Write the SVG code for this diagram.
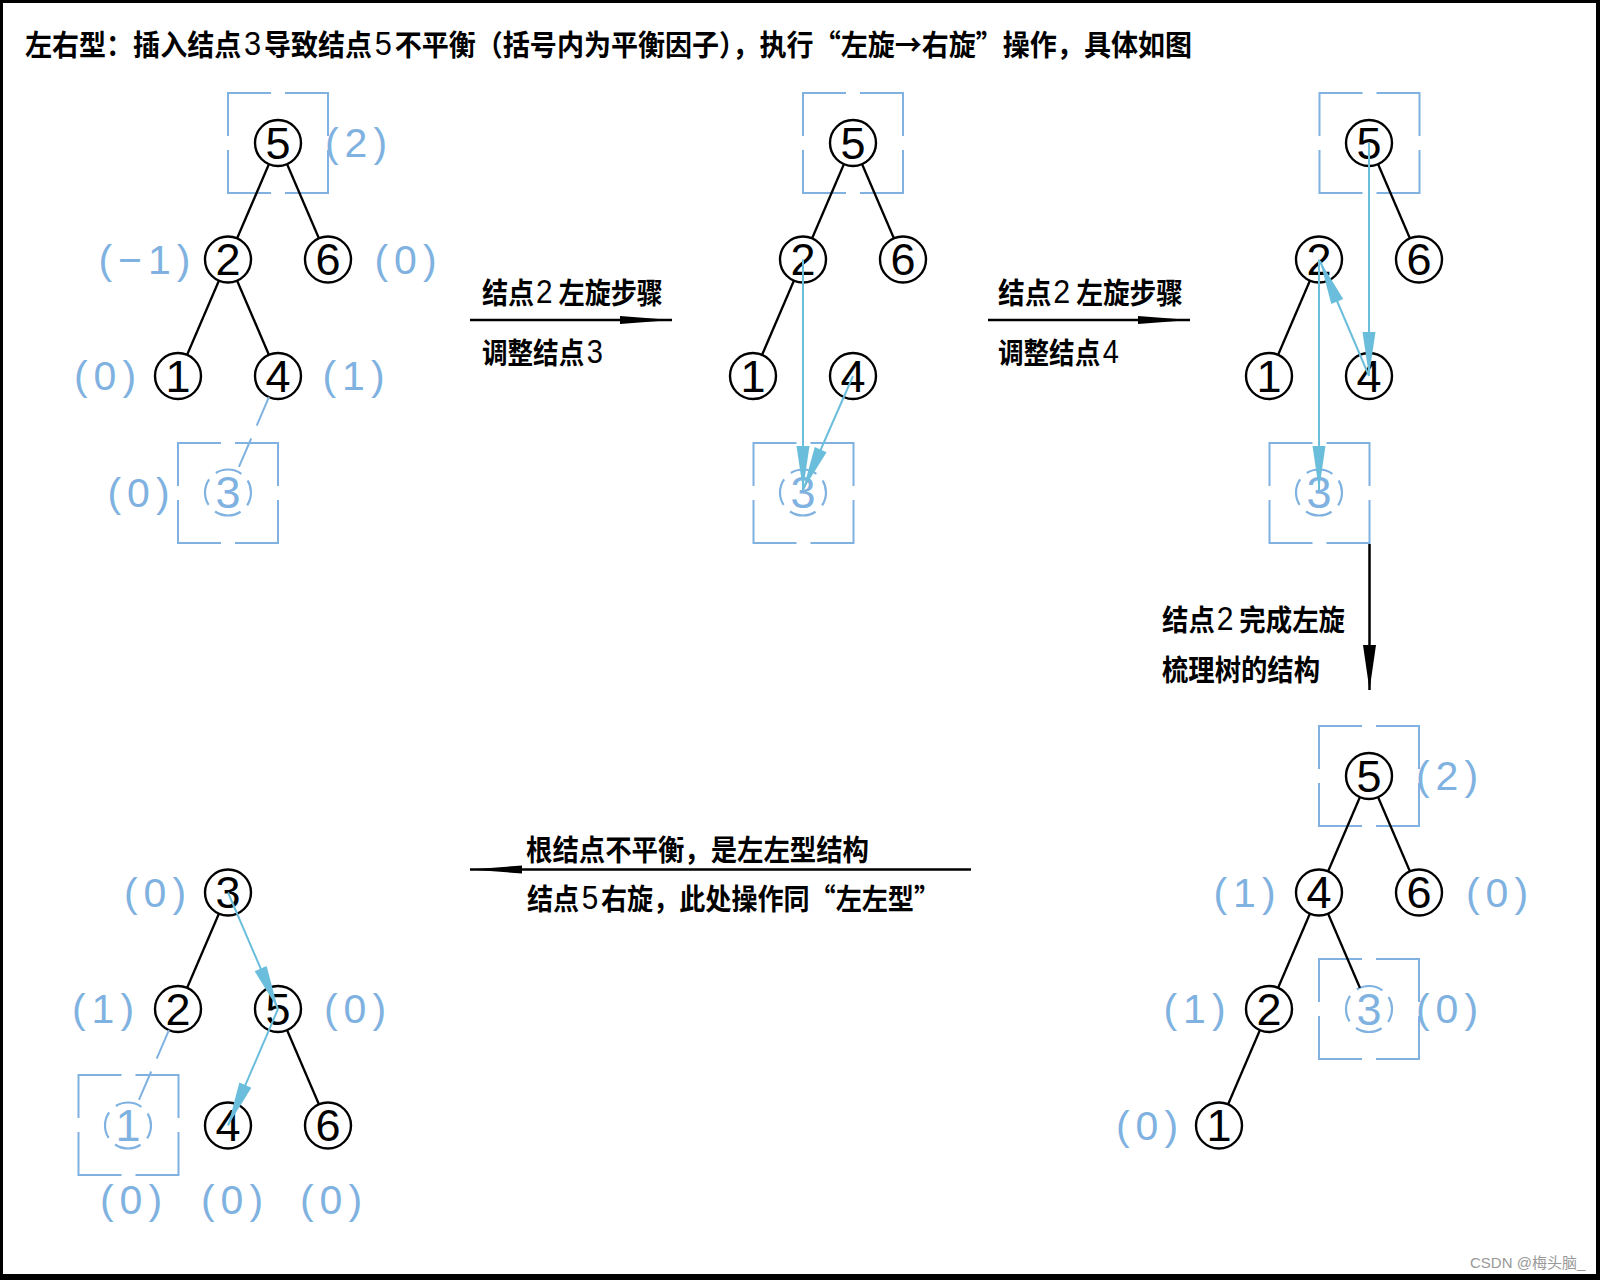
<svg xmlns="http://www.w3.org/2000/svg" xmlns:xlink="http://www.w3.org/1999/xlink" width="1600" height="1280" viewBox="0 0 1600 1280">
<style>
.n circle{fill:#fff;stroke:#000;stroke-width:2.4}
.n .d{font-family:'Liberation Sans',Arial,sans-serif;font-size:45px;text-anchor:middle;dominant-baseline:central;fill:#000}
.nb circle{fill:#fff;stroke:#7FB2E0;stroke-width:2.2;stroke-dasharray:27 9.13;stroke-dashoffset:13.5}
.nb .d{fill:#7FB2E0}
.n .bf{font-family:'Liberation Sans',Arial,sans-serif;font-size:41px;fill:#7FB2E0;text-anchor:middle;dominant-baseline:central;letter-spacing:6px}
.box{fill:none;stroke:#7FB2E0;stroke-width:2}
.e{fill:none;stroke:#000;stroke-width:2.4}
.ed{fill:none;stroke:#7FB2E0;stroke-width:2;stroke-dasharray:31 14}
.ar{fill:none;stroke:#6BBEDB;stroke-width:2;marker-end:url(#mcy)}
.ak{fill:none;stroke:#000;stroke-width:2.5}
.cj{font-family:'Noto Sans CJK SC','Noto Sans CJK TC',sans-serif;font-weight:700;font-size:29px;fill:#000;dominant-baseline:central}
.dg{font-family:'Liberation Sans',Arial,sans-serif;font-weight:400;font-size:33px}
</style>
<defs>
<path id="bx" class="box" d="M-7,-50 H-50 V-7 M7,-50 H50 V-7 M50,7 V50 H7 M-7,50 H-50 V7"/>
<marker id="mcy" markerUnits="userSpaceOnUse" markerWidth="44" markerHeight="13" refX="44" refY="6.5" orient="auto" overflow="visible"><path d="M0,0 L44,6.5 L0,13 Z" fill="#6BBEDB"/></marker>
<marker id="mbk" markerUnits="userSpaceOnUse" markerWidth="45" markerHeight="13" refX="45" refY="6.5" orient="auto" overflow="visible"><path d="M0,0 L45,6.5 L0,13 Z" fill="#000"/></marker>
<marker id="mbh" markerUnits="userSpaceOnUse" markerWidth="52" markerHeight="8" refX="52" refY="4" orient="auto" overflow="visible"><path d="M0,0 L52,4 L0,8 Z" fill="#000"/></marker>
</defs>
<rect x="0" y="0" width="1600" height="1280" fill="#000"/>
<rect x="3" y="3" width="1593" height="1271" fill="#fff"/>

<text id="title" class="cj" x="25" y="43" font-size="31" textLength="1167" lengthAdjust="spacingAndGlyphs">左右型：插入结点<tspan class="dg" dx="3">3</tspan><tspan dx="3">导致结点</tspan><tspan class="dg" dx="3">5</tspan><tspan dx="3">不平衡（括号内为平衡因子），执行“左旋→右旋”操作，具体如图</tspan></text>

<!-- Tree 1 -->
<g id="t1-n5" class="n"><use xlink:href="#bx" x="278" y="143"/><circle cx="278" cy="143" r="23"/><text class="d" x="278" y="143">5</text><text class="bf" x="359" y="143">(2)</text></g>
<g id="t1-n2" class="n"><circle cx="228" cy="259.5" r="23"/><text class="d" x="228" y="259.5">2</text><text class="bf" x="147.5" y="259.5">(−1)</text></g>
<g id="t1-n6" class="n"><circle cx="328" cy="259.5" r="23"/><text class="d" x="328" y="259.5">6</text><text class="bf" x="408.5" y="259.5">(0)</text></g>
<g id="t1-n1" class="n"><circle cx="178" cy="376" r="23"/><text class="d" x="178" y="376">1</text><text class="bf" x="108" y="376">(0)</text></g>
<g id="t1-n4" class="n"><circle cx="278" cy="376" r="23"/><text class="d" x="278" y="376">4</text><text class="bf" x="356.5" y="376">(1)</text></g>
<g id="t1-n3" class="n nb"><use xlink:href="#bx" x="228" y="493"/><circle cx="228" cy="492.5" r="23"/><text class="d" x="228" y="492.5">3</text><text class="bf" x="141.5" y="492.5">(0)</text></g>

<!-- Tree 2 -->
<g id="t2-n5" class="n"><use xlink:href="#bx" x="853" y="143"/><circle cx="853" cy="143" r="23"/><text class="d" x="853" y="143">5</text></g>
<g id="t2-n2" class="n"><circle cx="803" cy="259.5" r="23"/><text class="d" x="803" y="259.5">2</text></g>
<g id="t2-n6" class="n"><circle cx="903" cy="259.5" r="23"/><text class="d" x="903" y="259.5">6</text></g>
<g id="t2-n1" class="n"><circle cx="753" cy="376" r="23"/><text class="d" x="753" y="376">1</text></g>
<g id="t2-n4" class="n"><circle cx="853" cy="376" r="23"/><text class="d" x="853" y="376">4</text></g>
<g id="t2-n3" class="n nb"><use xlink:href="#bx" x="803.5" y="493"/><circle cx="803" cy="492.5" r="23"/><text class="d" x="803" y="492.5">3</text></g>

<!-- Tree 3 -->
<g id="t3-n5" class="n"><use xlink:href="#bx" x="1369.5" y="143"/><circle cx="1369" cy="143" r="23"/><text class="d" x="1369" y="143">5</text></g>
<g id="t3-n2" class="n"><circle cx="1319" cy="259.5" r="23"/><text class="d" x="1319" y="259.5">2</text></g>
<g id="t3-n6" class="n"><circle cx="1419" cy="259.5" r="23"/><text class="d" x="1419" y="259.5">6</text></g>
<g id="t3-n1" class="n"><circle cx="1269" cy="376" r="23"/><text class="d" x="1269" y="376">1</text></g>
<g id="t3-n4" class="n"><circle cx="1369" cy="376" r="23"/><text class="d" x="1369" y="376">4</text></g>
<g id="t3-n3" class="n nb"><use xlink:href="#bx" x="1319.5" y="493"/><circle cx="1319" cy="492.5" r="23"/><text class="d" x="1319" y="492.5">3</text></g>

<!-- Tree 4 -->
<g id="t4-n5" class="n"><use xlink:href="#bx" x="1369" y="776"/><circle cx="1369" cy="776" r="23"/><text class="d" x="1369" y="776">5</text><text class="bf" x="1450" y="776">(2)</text></g>
<g id="t4-n4" class="n"><circle cx="1319" cy="892.5" r="23"/><text class="d" x="1319" y="892.5">4</text><text class="bf" x="1247.5" y="892.5">(1)</text></g>
<g id="t4-n6" class="n"><circle cx="1419" cy="892.5" r="23"/><text class="d" x="1419" y="892.5">6</text><text class="bf" x="1500" y="892.5">(0)</text></g>
<g id="t4-n2" class="n"><circle cx="1269" cy="1009" r="23"/><text class="d" x="1269" y="1009">2</text><text class="bf" x="1197.5" y="1009">(1)</text></g>
<g id="t4-n3" class="n nb"><use xlink:href="#bx" x="1369" y="1009"/><circle cx="1369" cy="1009" r="23"/><text class="d" x="1369" y="1009">3</text><text class="bf" x="1450" y="1009">(0)</text></g>
<g id="t4-n1" class="n"><circle cx="1219" cy="1125.5" r="23"/><text class="d" x="1219" y="1125.5">1</text><text class="bf" x="1150" y="1125.5">(0)</text></g>

<!-- Tree 5 -->
<g id="t5-n3" class="n"><circle cx="228" cy="892.5" r="23"/><text class="d" x="228" y="892.5">3</text><text class="bf" x="158" y="892.5">(0)</text></g>
<g id="t5-n2" class="n"><circle cx="178" cy="1009" r="23"/><text class="d" x="178" y="1009">2</text><text class="bf" x="106" y="1009">(1)</text></g>
<g id="t5-n5" class="n"><circle cx="278" cy="1009" r="23"/><text class="d" x="278" y="1009">5</text><text class="bf" x="358" y="1009">(0)</text></g>
<g id="t5-n1" class="n nb"><use xlink:href="#bx" x="128.5" y="1125"/><circle cx="128" cy="1125.5" r="23"/><text class="d" x="128" y="1125.5">1</text><text class="bf" x="134" y="1200">(0)</text></g>
<g id="t5-n4" class="n"><circle cx="228" cy="1125.5" r="23"/><text class="d" x="228" y="1125.5">4</text><text class="bf" x="235" y="1200">(0)</text></g>
<g id="t5-n6" class="n"><circle cx="328" cy="1125.5" r="23"/><text class="d" x="328" y="1125.5">6</text><text class="bf" x="334" y="1200">(0)</text></g>

<!-- Step labels -->
<g id="step1-label">
<text class="cj" x="482" y="291" textLength="181" lengthAdjust="spacingAndGlyphs">结点<tspan class="dg" dx="2">2</tspan> 左旋步骤</text>
<text class="cj" x="482" y="351" textLength="121" lengthAdjust="spacingAndGlyphs">调整结点<tspan class="dg" dx="3">3</tspan></text>
</g>
<g id="step2-label">
<text class="cj" x="998" y="291" textLength="185" lengthAdjust="spacingAndGlyphs">结点<tspan class="dg" dx="2">2</tspan> 左旋步骤</text>
<text class="cj" x="998" y="351" textLength="121" lengthAdjust="spacingAndGlyphs">调整结点<tspan class="dg" dx="3">4</tspan></text>
</g>
<g id="step3-label">
<text class="cj" x="1162" y="618" textLength="183" lengthAdjust="spacingAndGlyphs">结点<tspan class="dg" dx="2">2</tspan> 完成左旋</text>
<text class="cj" x="1162" y="668" textLength="158" lengthAdjust="spacingAndGlyphs">梳理树的结构</text>
</g>
<g id="step4-label">
<text class="cj" x="526" y="848" textLength="343" lengthAdjust="spacingAndGlyphs">根结点不平衡，是左左型结构</text>
<text class="cj" x="527" y="897" textLength="413" lengthAdjust="spacingAndGlyphs">结点<tspan class="dg" dx="3">5</tspan><tspan dx="3">右旋，此处操作同“左左型”</tspan></text>
</g>

<!-- Connectors -->
<g id="connectors">
<path class="e" d="M268.93,164.13 L237.07,238.37"/>
<path class="e" d="M287.07,164.13 L318.93,238.37"/>
<path class="e" d="M218.93,280.63 L187.07,354.87"/>
<path class="e" d="M237.07,280.63 L268.93,354.87"/>
<path class="ed" d="M268.93,397.13 L237.07,471.37"/>

<path class="e" d="M843.93,164.13 L812.07,238.37"/>
<path class="e" d="M862.07,164.13 L893.93,238.37"/>
<path class="e" d="M793.93,280.63 L762.07,354.87"/>
<path class="ar" d="M803,259.5 L803,490"/>
<path class="ar" d="M853,376 L803,490"/>

<path class="e" d="M1378.07,164.13 L1409.93,238.37"/>
<path class="e" d="M1309.93,280.63 L1278.07,354.87"/>
<path class="ar" d="M1369,143 L1369,376"/>
<path class="ar" d="M1369,376 L1320,261"/>
<path class="ar" d="M1319,259.5 L1319,490"/>

<path class="e" d="M1359.93,797.13 L1328.07,871.37"/>
<path class="e" d="M1378.07,797.13 L1409.93,871.37"/>
<path class="e" d="M1309.93,913.63 L1278.07,987.87"/>
<path class="e" d="M1328.07,913.63 L1359.93,987.87"/>
<path class="e" d="M1259.93,1030.13 L1228.07,1104.37"/>

<path class="e" d="M218.93,913.63 L187.07,987.87"/>
<path class="e" d="M287.07,1030.13 L318.93,1104.37"/>
<path class="ed" d="M168.93,1030.13 L137.07,1104.37"/>
<path class="ar" d="M228,892.5 L278,1009"/>
<path class="ar" d="M278,1009 L228,1125.5"/>

<path class="ak" d="M470,320 L672,320" marker-end="url(#mbh)"/>
<path class="ak" d="M988,320 L1190,320" marker-end="url(#mbh)"/>
<path class="ak" d="M1369.5,544 L1369.5,690" marker-end="url(#mbk)"/>
<path class="ak" d="M971,869.5 L470,869.5" marker-end="url(#mbh)"/>
</g>

<text x="1470" y="1262" font-family="'Liberation Sans','Noto Sans CJK SC',sans-serif" font-size="15" fill="#999" dominant-baseline="central">CSDN @梅头脑_</text>
</svg>
